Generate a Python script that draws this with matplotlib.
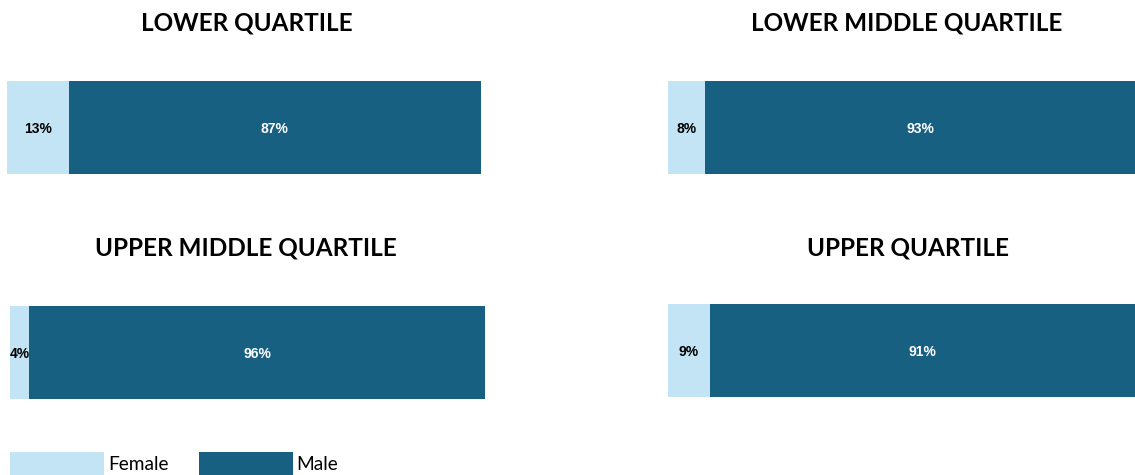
import matplotlib as mpl
mpl.use('Agg')
import matplotlib.pyplot as plt
from matplotlib.patches import Patch

# data
quartiles = ['LOWER QUARTILE', 'LOWER MIDDLE QUARTILE', 'UPPER MIDDLE QUARTILE', 'UPPER QUARTILE']
female = [13, 8, 4, 9]
male = [87, 93, 96, 91]
series_names = ['Female', 'Male']

light = '#C2E4F4'
dark = '#176082'

fig = plt.figure(figsize=(11.35, 4.75), dpi=100)

# axes rectangles in figure fractions [left, bottom, width, height]
rects = [
    [7/1135, 1 - 174/475, 474/1135, 93/475],
    [668/1135, 1 - 174/475, 467/1135, 93/475],
    [10/1135, 1 - 399/475, 475/1135, 93/475],
    [668/1135, 1 - 397/475, 467/1135, 93/475],
]
title_pos = [(247, 23), (907, 23), (246, 248), (908, 248)]

for i, name in enumerate(quartiles):
    ax = fig.add_axes(rects[i])
    f, m = female[i], male[i]
    ax.barh([0], [f], height=1, color=light, edgecolor='none')
    ax.barh([0], [m], left=[f], height=1, color=dark, edgecolor='none')
    ax.set_xlim(0, f + m)
    ax.set_ylim(-0.5, 0.5)
    ax.axis('off')
    ax.text(f / 2, 0, f'{f}%', ha='center', va='center_baseline', fontsize=10,
            fontweight='bold', family='Liberation Sans', color='black')
    ax.text(f + m / 2, 0, f'{m}%', ha='center', va='center_baseline', fontsize=10,
            fontweight='bold', family='Liberation Sans', color='white')
    tx, ty = title_pos[i]
    fig.text(tx / 1135, 1 - ty / 475, name, ha='center', va='center',
             fontsize=17.5, fontweight='bold', family='Lato')

handles = [Patch(facecolor=light, edgecolor='none'), Patch(facecolor=dark, edgecolor='none')]
fig.legend(handles, series_names, loc='upper left', bbox_to_anchor=(10/1135, 1 - 452/475),
           ncol=2, frameon=False, prop={'family': 'Lato', 'size': 13.8},
           handlelength=4.9, handleheight=1.56, handletextpad=0.2,
           columnspacing=1.6, borderpad=0, borderaxespad=0)

fig.savefig('out.png', dpi=100)
